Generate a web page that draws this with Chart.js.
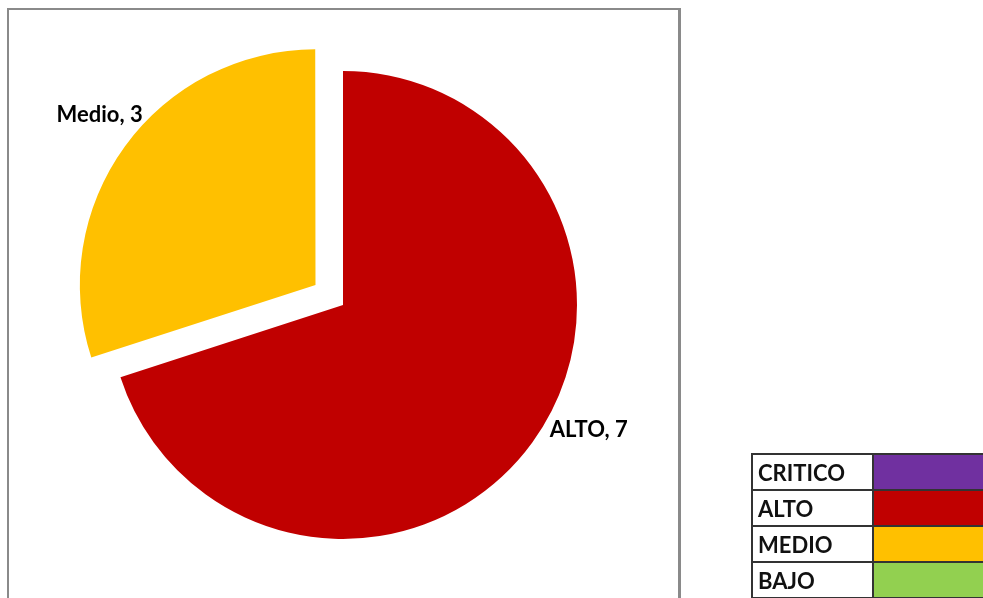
<!DOCTYPE html>
<html>
<head>
<meta charset="utf-8">
<script src="https://cdn.jsdelivr.net/npm/chart.js@4"></script>
<style>
  html, body { margin: 0; padding: 0; background: #fff; overflow: hidden; }
  #wrap { position: relative; width: 983px; height: 598px; overflow: hidden; }
  #frame { position: absolute; left: 7px; top: 8px; width: 669px; height: 620px; border: 2px solid #8a8a8a; border-right-width: 3px; }
  #chartCanvas { position: absolute; left: 0; top: 0; }
  #legendTable { position: absolute; left: 751px; top: 453px; width: 290px; table-layout: fixed; border-collapse: collapse; font-family: Lato, sans-serif; font-weight: bold; font-size: 22px; color: #111; }
  #legendTable td { border: 2px solid #333; height: 34px; padding: 0 0 0 5px; white-space: nowrap; }
  #legendTable td.name { width: 114px; }
  #legendTable td.swatch { padding: 0; }
</style>
</head>
<body>
<div id="wrap">
  <div id="frame"></div>
  <canvas id="chartCanvas" width="983" height="598"></canvas>
  <table id="legendTable"></table>
</div>
<script>
// pie data
const categories = ['ALTO', 'Medio'];
const values = [7, 3];
const sliceColors = ['#C00000', '#FFC000'];
// Chart.js moves an arc by offset / 4, so 136 -> 34px
const sliceOffsets = [0, 136];

// legend table
const levelNames = ['CRITICO', 'ALTO', 'MEDIO', 'BAJO'];
const levelColors = ['#7030A0', '#C00000', '#FFC000', '#92D050'];

const table = document.getElementById('legendTable');
levelNames.forEach((name, i) => {
    const tr = document.createElement('tr');
    const tdName = document.createElement('td');
    tdName.className = 'name';
    tdName.textContent = name;
    const tdColor = document.createElement('td');
    tdColor.className = 'swatch';
    tdColor.style.background = levelColors[i];
    tr.appendChild(tdName);
    tr.appendChild(tdColor);
    table.appendChild(tr);
});

// labels "Category, value" outside each slice
const labelNudge = [[11, -17], [23, -28]];
const outsideLabels = {
    id: 'outsideLabels',
    afterDatasetsDraw(chart) {
        const ctx = chart.ctx;
        const meta = chart.getDatasetMeta(0);
        ctx.save();
        ctx.font = 'bold 22px Lato, sans-serif';
        ctx.fillStyle = '#000';
        ctx.textBaseline = 'middle';
        meta.data.forEach((arc, i) => {
            const p = arc.getProps(['x', 'y', 'startAngle', 'endAngle', 'outerRadius']);
            const mid = (p.startAngle + p.endAngle) / 2;
            const shift = (arc.options.offset || 0) / 4;
            const r = p.outerRadius + 8 + shift;
            const x = p.x + Math.cos(mid) * r + labelNudge[i][0];
            const y = p.y + Math.sin(mid) * r + labelNudge[i][1];
            ctx.textAlign = Math.cos(mid) >= 0 ? 'left' : 'right';
            ctx.fillText(categories[i] + ', ' + values[i], x, y);
        });
        ctx.restore();
    }
};

const ctx = document.getElementById('chartCanvas').getContext('2d');
let chart = new Chart(ctx, {
    type: 'pie',
    data: {
        labels: categories,
        datasets: [{
            data: values,
            backgroundColor: sliceColors,
            borderWidth: 0,
            offset: sliceOffsets,
            hoverOffset: 0
        }]
    },
    options: {
        responsive: false,
        animation: false,
        events: [],
        radius: 234,
        layout: { padding: { left: 92, top: 54, right: 389, bottom: 42 } },
        plugins: {
            legend: { display: false },
            tooltip: { enabled: false }
        }
    },
    plugins: [outsideLabels]
});
</script>
</body>
</html>
